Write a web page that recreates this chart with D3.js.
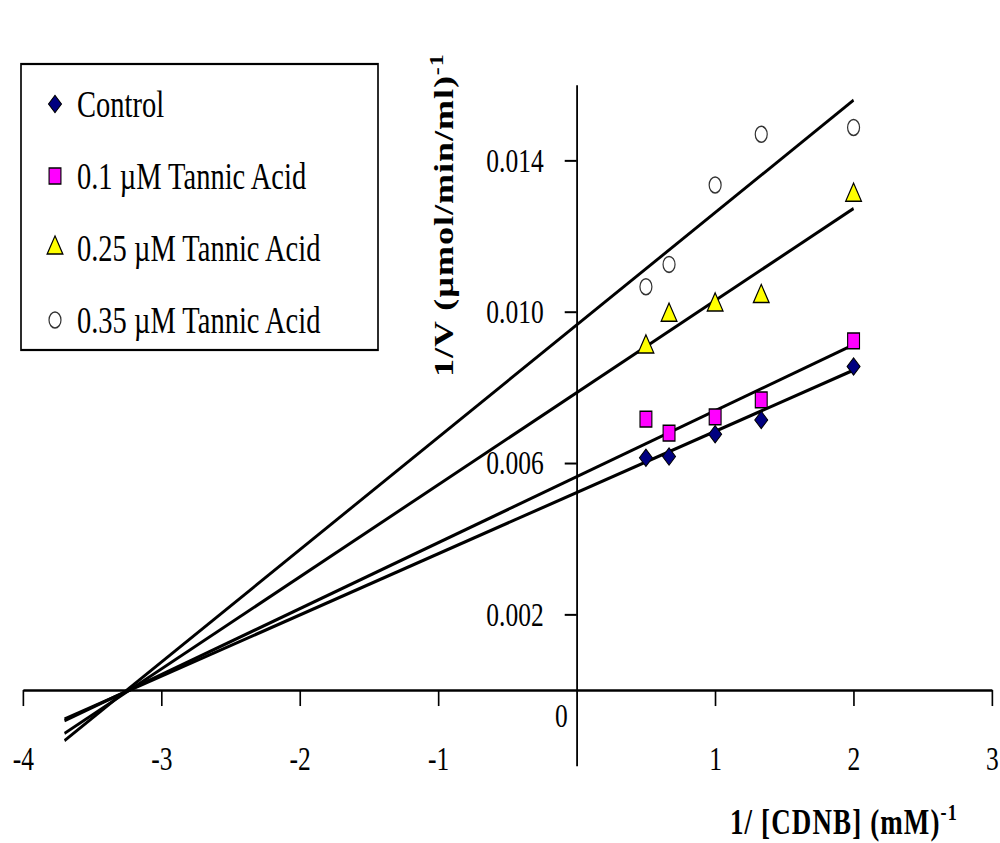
<!DOCTYPE html>
<html>
<head>
<meta charset="utf-8">
<script src="https://cdn.jsdelivr.net/npm/d3@7"></script>
<style>
  html, body { margin: 0; padding: 0; background: #fff; }
  svg { display: block; }
  text { font-family: "Liberation Serif", "Times New Roman", serif; fill: #000; }
</style>
</head>
<body>
<div id="chart"></div>
<script>
// data
const xValues = [0.5, 0.667, 1, 1.333, 2];               // 1/[CDNB]
const seriesNames = ["Control", "0.1 \u00b5M Tannic Acid", "0.25 \u00b5M Tannic Acid", "0.35 \u00b5M Tannic Acid"];
const controlY = [0.00614, 0.00617, 0.00676, 0.00714, 0.00855];
const tannic01Y = [0.00716, 0.00679, 0.00722, 0.00767, 0.00923];
const tannic025Y = [0.00907, 0.00991, 0.01018, 0.0104, 0.01308];
const tannic035Y = [0.01066, 0.01125, 0.01335, 0.01469, 0.01487];
// trendlines as drawn in the picture (slope, y intercept)
const trendSlopes = [0.001618, 0.001744, 0.002434, 0.00297];
const trendIntercepts = [0.00522, 0.00564, 0.00786, 0.00965];
const trendRange = [-3.7, 2];
const xTicks = [-4, -3, -2, -1, 1, 2, 3];
const yTicks = [0.002, 0.006, 0.010, 0.014];

const seriesY = [controlY, tannic01Y, tannic025Y, tannic035Y];

// the picture is squeezed sideways, so draw on a wider canvas and squash it
const squeeze = 0.75;
const width = 1000 / squeeze;
const height = 843;

const svg = d3.select("#chart")
  .append("svg")
  .attr("width", 1000)
  .attr("height", height)
  .attr("viewBox", `0 0 ${width} ${height}`)
  .attr("preserveAspectRatio", "none");

const xScale = d3.scaleLinear().domain([-4, 3]).range([23 / squeeze, 992 / squeeze]);
const yScale = d3.scaleLinear().domain([-0.002, 0.016]).range([765.7, 84.7]);

// marker styles per series
const symbols = [
  { type: d3.symbolSquare, size: 150, rotate: 45, fill: "#000080", stroke: "#000", sw: 1.2 },
  { type: d3.symbolSquare, size: 250, rotate: 0, fill: "#ff00ff", stroke: "#000", sw: 1.5 },
  { type: d3.symbolTriangle, size: 190, rotate: 0, fill: "#ffff00", stroke: "#000", sw: 1.5 },
  { type: d3.symbolCircle, size: 200, rotate: 0, fill: "#fff", stroke: "#333", sw: 1.6 }
];

// X axis
const xAxis = d3.axisBottom(xScale)
  .tickValues(xTicks)
  .tickSizeInner(16)
  .tickSizeOuter(0)
  .tickPadding(52)
  .tickFormat(d => String(d));

const gx = svg.append("g")
  .attr("transform", `translate(0, ${yScale(0)})`)
  .call(xAxis);
gx.select(".domain").attr("stroke-width", 2.6);
gx.selectAll(".tick line").attr("stroke-width", 2.2);
gx.selectAll(".tick text")
  .attr("dy", "0.35em")
  .style("font-size", "34px")
  .style("font-family", "'Liberation Serif', serif");

// the lone "0" sitting left of the origin
svg.append("text")
  .attr("x", xScale(0) - 9 / squeeze)
  .attr("y", yScale(0) + 37)
  .attr("text-anchor", "end")
  .style("font-size", "34px")
  .text("0");

// Y axis
const yAxis = d3.axisLeft(yScale)
  .tickValues(yTicks)
  .tickSizeInner(16)
  .tickSizeOuter(0)
  .tickPadding(28)
  .tickFormat(d3.format(".3f"));

const gy = svg.append("g")
  .attr("transform", `translate(${xScale(0)}, 0)`)
  .call(yAxis);
gy.select(".domain").attr("stroke-width", 2.4);
gy.selectAll(".tick line").attr("stroke-width", 2);
gy.selectAll(".tick text")
  .style("font-size", "34px")
  .style("font-family", "'Liberation Serif', serif");

// trendlines
const line = d3.line().x(d => xScale(d[0])).y(d => yScale(d[1]));
trendSlopes.forEach((slope, s) => {
  svg.append("path")
    .attr("d", line(trendRange.map(x => [x, trendIntercepts[s] + slope * x])))
    .attr("fill", "none")
    .attr("stroke", "#000")
    .attr("stroke-width", 3.2);
});

// points
seriesY.forEach((ys, s) => {
  const sym = symbols[s];
  svg.append("g").selectAll("path")
    .data(xValues.map((x, i) => [x, ys[i]]))
    .join("path")
    .attr("d", d3.symbol().type(sym.type).size(sym.size))
    .attr("transform", d => `translate(${xScale(d[0])}, ${yScale(d[1])}) rotate(${sym.rotate})`)
    .attr("fill", sym.fill)
    .attr("stroke", sym.stroke)
    .attr("stroke-width", sym.sw);
});

// legend
const legend = svg.append("g").attr("class", "legend");
legend.append("rect")
  .attr("x", 21 / squeeze)
  .attr("y", 64)
  .attr("width", (378 - 21) / squeeze)
  .attr("height", 286)
  .attr("fill", "#fff")
  .attr("stroke", "#000")
  .attr("stroke-width", 2.2);

const rowY = d3.scalePoint().domain(seriesNames).range([104, 320]);
seriesNames.forEach((name, s) => {
  const sym = symbols[s];
  legend.append("path")
    .attr("d", d3.symbol().type(sym.type).size(sym.size))
    .attr("transform", `translate(${55 / squeeze}, ${rowY(name)}) rotate(${sym.rotate})`)
    .attr("fill", sym.fill)
    .attr("stroke", sym.stroke)
    .attr("stroke-width", sym.sw);
  legend.append("text")
    .attr("x", 77 / squeeze)
    .attr("y", rowY(name) + 13)
    .style("font-size", "38px")
    .text(name);
});

// axis titles
const yTitle = svg.append("text")
  .attr("transform", `translate(${453 / squeeze}, 377) rotate(-90)`)
  .attr("text-anchor", "start")
  .style("font-size", "36px")
  .style("font-weight", "bold")
  .style("letter-spacing", "1px");
yTitle.append("tspan").text("1/V  (\u00b5mol/min/ml)");
yTitle.append("tspan").attr("dy", -14).style("font-size", "24px").text("-1");

const xTitle = svg.append("text")
  .attr("x", 730 / squeeze)
  .attr("y", 834)
  .style("font-size", "36px")
  .style("font-weight", "bold")
  .style("letter-spacing", "1.5px");
xTitle.append("tspan").text("1/ [CDNB] (mM)");
xTitle.append("tspan").attr("dy", -14).style("font-size", "24px").text("-1");
</script>
</body>
</html>
